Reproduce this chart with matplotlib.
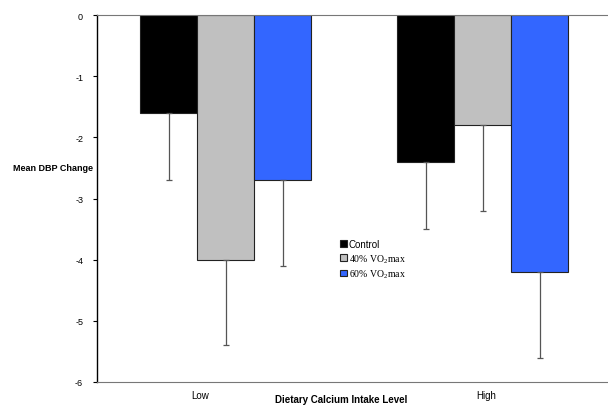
import matplotlib
matplotlib.use("Agg")
import matplotlib.pyplot as plt
import numpy as np

plt.rcParams['font.family'] = ['Liberation Sans', 'DejaVu Sans']
plt.rcParams['mathtext.fontset'] = 'custom'
plt.rcParams['mathtext.rm'] = 'Liberation Serif'

# data
levels = ['Low', 'High']
series = ['Control', '40% VO$_2$max', '60% VO$_2$max']
control = [-1.6, -2.4]
vo2_40 = [-4.0, -1.8]
vo2_60 = [-2.7, -4.2]
err_control = [1.1, 1.1]
err_40 = [1.4, 1.4]
err_60 = [1.4, 1.4]
colors = ['#000000', '#c0c0c0', '#3366ff']

fig = plt.figure(figsize=(6.08, 4.06), dpi=100)
ax = fig.add_axes([97 / 608, 1 - 383 / 406, 514 / 608, 367 / 406])

x = np.arange(len(levels))
w = 57 / 257
vals = [control, vo2_40, vo2_60]
errs = [err_control, err_40, err_60]
for i in range(3):
    pos = x + (i - 1) * w
    ax.bar(pos, vals[i], w, color=colors[i], edgecolor='#222222', linewidth=0.8,
           label=series[i], zorder=2)
    ax.errorbar(pos, vals[i], yerr=[errs[i], np.zeros(2)], fmt='none',
                ecolor='#555555', elinewidth=0.9, capsize=2.5, capthick=0.9, zorder=3)

ax.set_xlim(-0.5, 1.5)
ax.set_ylim(-6, 0)
ax.set_yticks(range(-6, 1))
ax.set_yticklabels([str(v) for v in range(-6, 1)])
ax.tick_params(axis='y', labelsize=6.5, length=3, width=0.8, pad=7)
# category labels sit slightly off the group centres in the original
ax.set_xticks(x + np.array([-0.1, 0.015]))
ax.set_xticklabels(levels)
ax.tick_params(axis='x', labelsize=7, length=0, pad=6)

ax.spines['left'].set_color('black')
ax.spines['left'].set_linewidth(1.0)
ax.spines['top'].set_color('#777777')
ax.spines['bottom'].set_color('#777777')
ax.spines['right'].set_visible(False)

fig.text(93 / 608, 1 - 169 / 406, 'Mean DBP Change', ha='right', va='center',
         fontsize=6.5, fontweight='bold')
fig.text(341 / 608, 1 - 400 / 406, 'Dietary Calcium Intake Level', ha='center',
         va='center', fontsize=7, fontweight='bold')

leg = ax.legend(loc='upper left', bbox_to_anchor=(333 / 608, 1 - 233 / 406),
                bbox_transform=fig.transFigure, frameon=False, fontsize=7,
                handlelength=0.7, handleheight=0.7, handletextpad=0.2,
                labelspacing=0.3, borderpad=0.2)
texts = leg.get_texts()
texts[1].set_family('Liberation Serif')
texts[2].set_family('Liberation Serif')

fig.savefig('out.png', dpi=100)
